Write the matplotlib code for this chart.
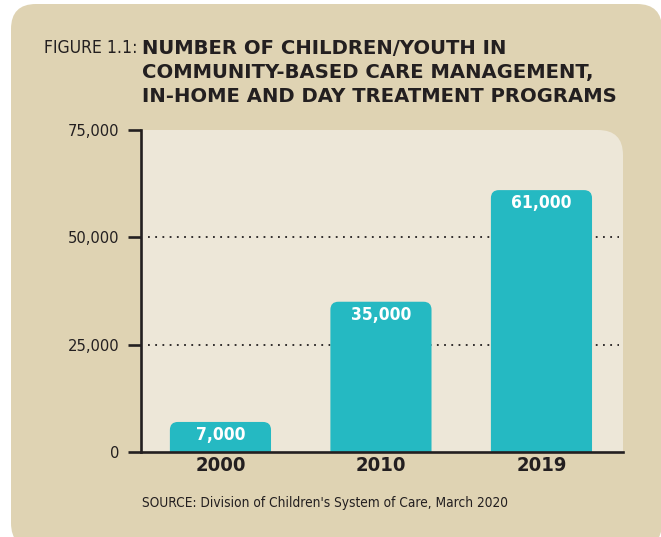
import numpy as np
import matplotlib.pyplot as plt
from matplotlib import font_manager as fm
from matplotlib.patches import FancyBboxPatch, Rectangle

# datos del grafico
years = ['2000', '2010', '2019']
children = [7000, 35000, 61000]
bar_labels = ['7,000', '35,000', '61,000']
yticks = [0, 25000, 50000, 75000]
ytick_labels = ['0', '25,000', '50,000', '75,000']

bg_outer = '#dfd3b3'
bg_inner = '#ede7d8'
bar_color = '#25b9c2'
ink = '#231f20'

# buscar una fuente angosta instalada
def find_narrow(bold):
    best = None
    for f in fm.fontManager.ttflist:
        narrowish = ('Narrow' in f.name or 'Condensed' in f.name
                     or f.stretch in ('condensed', 'semi-condensed', 'extra-condensed'))
        if not narrowish or f.style != 'normal':
            continue
        w = f.weight if isinstance(f.weight, int) else (700 if 'bold' in str(f.weight) else 400)
        ok = w >= 600 if bold else w < 600
        if ok:
            if best is None or 'Liberation' in f.name:
                best = f
    return best

f_reg = find_narrow(False)
f_bold = find_narrow(True)
have_narrow = f_reg is not None and f_bold is not None

def font(size, bold=False):
    if have_narrow:
        return fm.FontProperties(fname=(f_bold if bold else f_reg).fname, size=size)
    return fm.FontProperties(family='DejaVu Sans', size=size * 0.82,
                             weight='bold' if bold else 'normal')

W, H = 661, 537
fig = plt.figure(figsize=(W / 100, H / 100), dpi=100)
fig.patch.set_facecolor('white')

def fx(px):
    return px / W

def fy(py):
    return 1 - py / H

# fondo redondeado exterior
fig.patches.append(FancyBboxPatch((fx(11), fy(548)), fx(651), 544 / H,
                                  boxstyle='round,pad=0,rounding_size=%f' % fx(25),
                                  mutation_aspect=W / H,
                                  transform=fig.transFigure, facecolor=bg_outer,
                                  edgecolor='none', zorder=0))

# panel interior, solo la esquina superior derecha redondeada
ax_l, ax_r, ax_t, ax_b = 141, 623, 130, 452
fig.patches.append(FancyBboxPatch((fx(ax_l), fy(ax_b)), fx(ax_r - ax_l), (ax_b - ax_t) / H,
                                  boxstyle='round,pad=0,rounding_size=%f' % fx(25),
                                  mutation_aspect=W / H,
                                  transform=fig.transFigure, facecolor=bg_inner,
                                  edgecolor='none', zorder=0.5))
fig.patches.append(Rectangle((fx(ax_l), fy(ax_b)), fx(ax_r - ax_l - 30), (ax_b - ax_t) / H,
                             transform=fig.transFigure, facecolor=bg_inner,
                             edgecolor='none', zorder=0.5))
fig.patches.append(Rectangle((fx(ax_l), fy(ax_b)), fx(ax_r - ax_l), (ax_b - ax_t - 30) / H,
                             transform=fig.transFigure, facecolor=bg_inner,
                             edgecolor='none', zorder=0.5))

ax = fig.add_axes([fx(ax_l), fy(ax_b), fx(ax_r - ax_l), (ax_b - ax_t) / H])
ax.set_facecolor('none')
ax.set_zorder(3)

x = np.arange(len(years))
xmin, xmax = -0.495, 2.508
ymax = 75000
ax.set_xlim(xmin, xmax)
ax.set_ylim(0, ymax)

# grilla punteada
for yv in [25000, 50000]:
    ax.plot([-0.45, 2.48], [yv, yv], color=ink, lw=1.3, linestyle=(0, (1, 3)), zorder=1)

# barras con esquinas superiores redondeadas
px_x = (ax_r - ax_l) / (xmax - xmin)
px_y = (ax_b - ax_t) / ymax
aspect = (1 / px_y) / (1 / px_x)
width = 0.63
for xi, val, lab in zip(x, children, bar_labels):
    box = FancyBboxPatch((xi - width / 2, -3000), width, val + 3000,
                         boxstyle='round,pad=0,rounding_size=%f' % (8 / px_x),
                         mutation_aspect=aspect, facecolor=bar_color,
                         edgecolor='none', zorder=2)
    ax.add_patch(box)
    ax.text(xi, val - 13 / px_y, lab, ha='center', va='center', color='white',
            fontproperties=font(12.5, True), zorder=3)

for s in ['top', 'right']:
    ax.spines[s].set_visible(False)
for s in ['left', 'bottom']:
    ax.spines[s].set_linewidth(1.9)
    ax.spines[s].set_color(ink)
    ax.spines[s].set_zorder(4)

ax.set_yticks(yticks)
ax.set_yticklabels(ytick_labels, fontproperties=font(11.8), color=ink)
ax.tick_params(axis='y', length=9.5, width=1.9, color=ink, pad=6)
ax.set_xticks(x)
ax.set_xticklabels(years, fontproperties=font(14.5, True), color=ink)
ax.tick_params(axis='x', length=0, pad=3)

# titulo
fig.text(fx(44), fy(48), 'FIGURE 1.1:', fontproperties=font(12.6), color=ink,
         va='center', ha='left')
title_lines = ['NUMBER OF CHILDREN/YOUTH IN',
               'COMMUNITY-BASED CARE MANAGEMENT,',
               'IN-HOME AND DAY TREATMENT PROGRAMS']
for i, line in enumerate(title_lines):
    fig.text(fx(142), fy(48 + 24.5 * i), line, family='DejaVu Sans', fontsize=14.1,
             fontweight='bold', color=ink, va='center', ha='left')

fig.text(fx(142), fy(503), "SOURCE: Division of Children's System of Care, March 2020",
         fontproperties=font(9.8), color=ink, va='center', ha='left')

fig.savefig('out.png', dpi=100, facecolor=fig.get_facecolor())
